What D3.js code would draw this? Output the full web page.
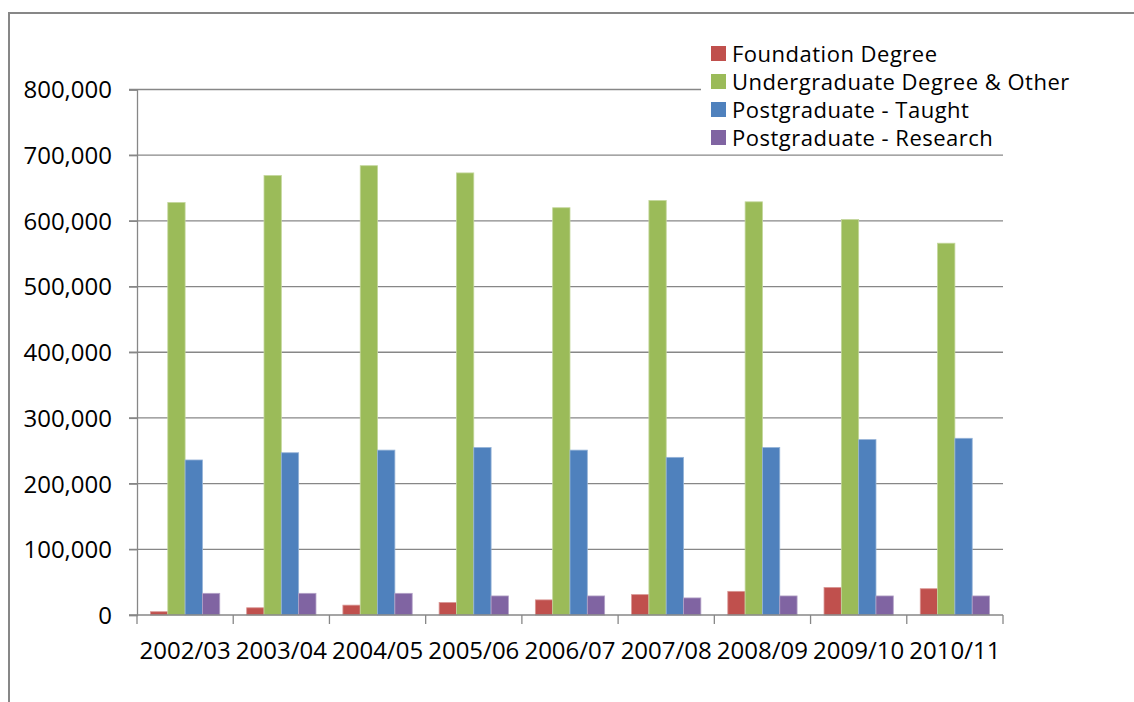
<!DOCTYPE html>
<html>
<head>
<meta charset="utf-8">
<script src="https://cdn.jsdelivr.net/npm/d3@7/dist/d3.min.js"></script>
<style>
  html, body { margin: 0; padding: 0; background: #fff; }
  svg { display: block; }
  text { font-family: "Open Sans", "Liberation Sans", sans-serif; fill: #000; }
</style>
</head>
<body>
<svg id="chart" width="1134" height="702"></svg>
<script>
const categories = ["2002/03","2003/04","2004/05","2005/06","2006/07","2007/08","2008/09","2009/10","2010/11"];
const seriesNames = ["Foundation Degree","Undergraduate Degree & Other","Postgraduate - Taught","Postgraduate - Research"];
const foundation    = [5000, 11000, 15000, 19000, 23000, 31000, 36000, 42000, 40000];
const undergraduate = [628000, 669000, 684000, 673000, 620000, 631000, 629000, 602000, 566000];
const pgTaught      = [236000, 247000, 251000, 255000, 251000, 240000, 255000, 267000, 269000];
const pgResearch    = [33000, 33000, 33000, 29000, 29000, 26000, 29000, 29000, 29000];
const yTicks = [0, 100000, 200000, 300000, 400000, 500000, 600000, 700000, 800000];
const colors = ["#C0504D", "#9BBB59", "#4F81BD", "#8064A2"];
const strokes = ["#D99694", "#C3D69B", "#95B3D7", "#B3A2C7"];

const seriesValues = [foundation, undergraduate, pgTaught, pgResearch];

const svg = d3.select("#chart");
const plot = { left: 137, right: 1003, top: 89.5, bottom: 615 };
const gray = "#878787";

// outer frame
svg.append("path")
  .attr("d", "M9,702 V13 H1134")
  .attr("fill", "none").attr("stroke", gray).attr("stroke-width", 2);

const x0 = d3.scaleBand().domain(categories).range([plot.left, plot.right])
  .paddingInner(0.28).paddingOuter(0.14);
const x1 = d3.scaleBand().domain(d3.range(seriesNames.length)).range([0, x0.bandwidth()]);
const y = d3.scaleLinear().domain([0, 800000]).range([plot.bottom, plot.top]);

// gridlines
svg.append("g").selectAll("line").data(yTicks.filter(d => d > 0)).join("line")
  .attr("x1", plot.left - 8).attr("x2", plot.right)
  .attr("y1", d => y(d)).attr("y2", d => y(d))
  .attr("stroke", gray).attr("stroke-width", 1.3);

// y axis
const yAxis = svg.append("g").attr("transform", `translate(${plot.left},0)`)
  .call(d3.axisLeft(y).tickValues(yTicks).tickSize(8).tickPadding(17)
    .tickFormat(d => d3.format(",")(d)));
yAxis.select(".domain").attr("stroke", gray).attr("stroke-width", 1.3);
yAxis.selectAll(".tick line").attr("stroke", gray).attr("stroke-width", 1.3);
yAxis.selectAll("text").attr("font-size", 24).attr("font-family", "'Open Sans', sans-serif")
  .attr("fill", "#000").attr("dy", "0.35em");

// bars
const groups = svg.append("g").selectAll("g").data(categories).join("g")
  .attr("transform", d => `translate(${x0(d)},0)`);
groups.selectAll("rect")
  .data((c, i) => seriesValues.map((vals, s) => ({ s, v: vals[i] })))
  .join("rect")
  .attr("x", d => x1(d.s))
  .attr("width", x1.bandwidth())
  .attr("y", d => y(d.v))
  .attr("height", d => y(0) - y(d.v))
  .attr("fill", d => colors[d.s])
  .attr("stroke", d => strokes[d.s]).attr("stroke-width", 0.8);

// x axis (ticks at band boundaries)
const xAxisG = svg.append("g");
xAxisG.append("line").attr("x1", plot.left - 8).attr("x2", plot.right)
  .attr("y1", plot.bottom).attr("y2", plot.bottom)
  .attr("stroke", gray).attr("stroke-width", 1.3);
const step = x0.step();
const bounds = d3.range(categories.length + 1).map(i => plot.left + i * step);
xAxisG.selectAll("line.tk").data(bounds).join("line").attr("class", "tk")
  .attr("x1", d => d).attr("x2", d => d)
  .attr("y1", plot.bottom).attr("y2", plot.bottom + 9)
  .attr("stroke", gray).attr("stroke-width", 1.3);
xAxisG.selectAll("text").data(categories).join("text")
  .attr("x", d => x0(d) + x0.bandwidth() / 2)
  .attr("y", 659)
  .attr("text-anchor", "middle")
  .attr("font-size", 24)
  .text(d => d);

// legend
const legend = svg.append("g");
legend.append("rect").attr("x", 701).attr("y", 36).attr("width", 400).attr("height", 114)
  .attr("fill", "#fff");
const rows = legend.selectAll("g").data(seriesNames).join("g")
  .attr("transform", (d, i) => `translate(711, ${54 + i * 28})`);
rows.append("rect").attr("x", 0).attr("y", -8).attr("width", 15).attr("height", 15)
  .attr("fill", (d, i) => colors[i]);
rows.append("text").attr("x", 21).attr("y", 0).attr("dy", "0.35em")
  .attr("font-size", 22).attr("letter-spacing", "0.5px").text(d => d);
</script>
</body>
</html>
